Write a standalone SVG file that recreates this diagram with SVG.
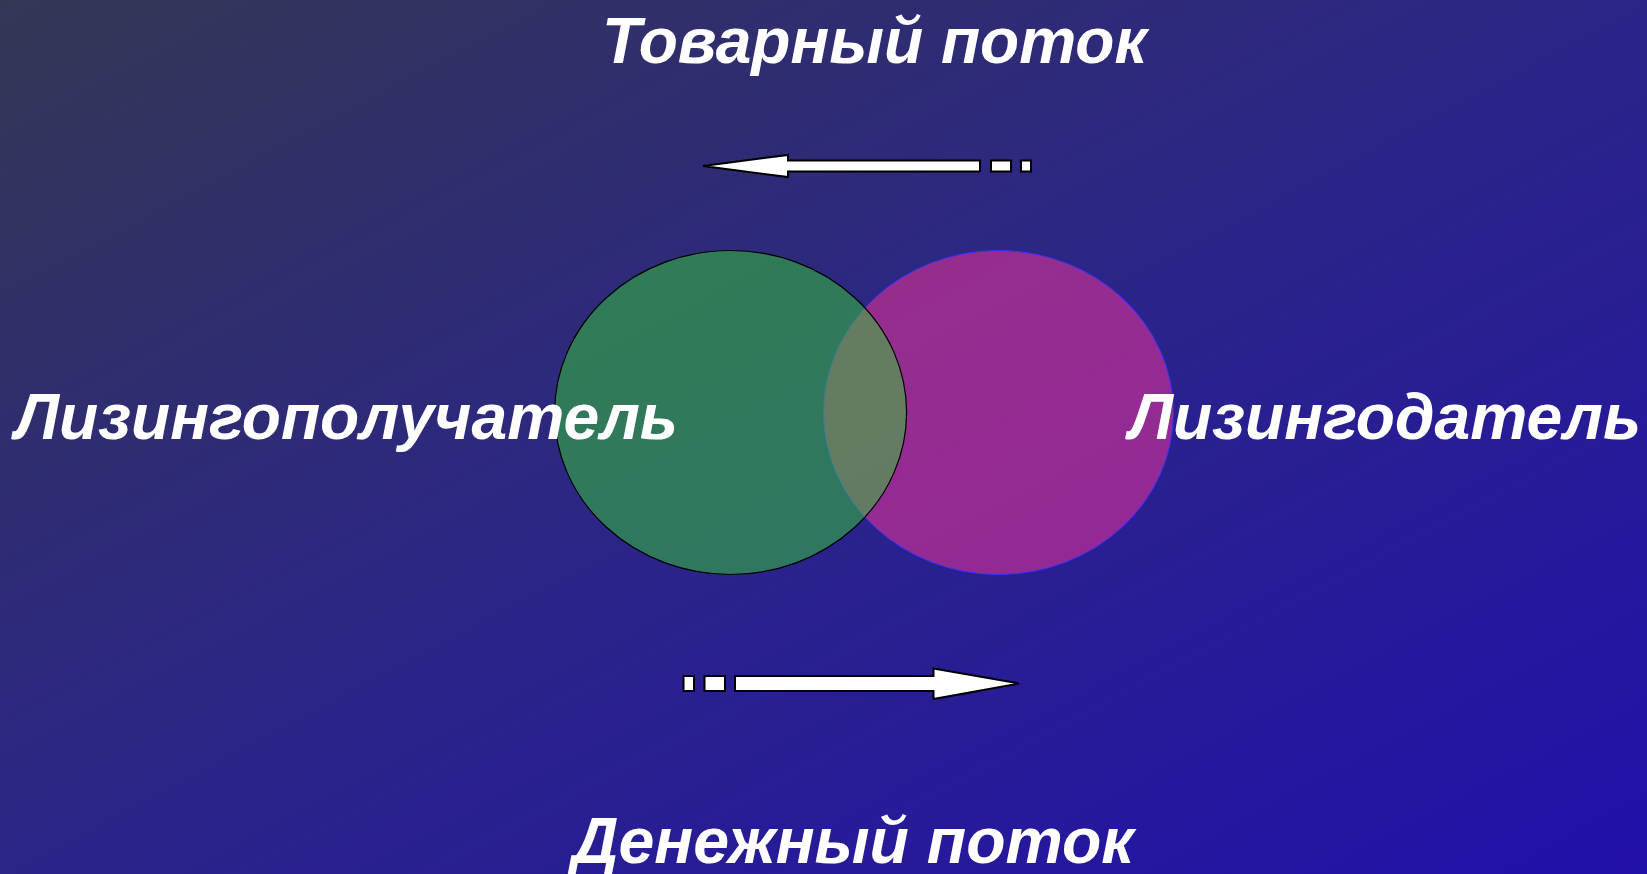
<svg xmlns="http://www.w3.org/2000/svg" width="1647" height="874" viewBox="0 0 1647 874">
<defs>
<linearGradient id="bg" x1="0" y1="0" x2="1" y2="1">
<stop offset="0" stop-color="#343754"/>
<stop offset="0.5" stop-color="#2b2588"/>
<stop offset="1" stop-color="#2210aa"/>
</linearGradient>
<style>
.t{font-family:"Liberation Sans",Arial,sans-serif;font-weight:bold;font-style:italic;fill:#ffffff;font-size:65px}
.arr{fill:#ffffff;stroke:#000000;stroke-width:2}
</style>
</defs>
<rect x="0" y="0" width="1647" height="874" fill="url(#bg)"/>
<g id="lessor">
<ellipse cx="998.5" cy="412.5" rx="175" ry="162" fill="#ff3399" fill-opacity="0.5" stroke="#3333ff" stroke-width="1"/>
</g>
<g id="lessee">
<ellipse cx="730.6" cy="412.5" rx="176" ry="162" fill="#33cc33" fill-opacity="0.5" stroke="#000000" stroke-width="1.2"/>
</g>
<g id="connectors">
<g id="goods-arrow">
<polygon class="arr" points="703,166 788,155 788,160.5 980,160.5 980,171.5 788,171.5 788,177"/>
<rect class="arr" x="991" y="160.5" width="20" height="11"/>
<rect class="arr" x="1021" y="160.5" width="10" height="11"/>
</g>
<g id="money-arrow">
<polygon class="arr" points="1019,683.5 933.5,668.5 933.5,676 735,676 735,691 933.5,691 933.5,699"/>
<rect class="arr" x="704.5" y="676" width="20.5" height="15"/>
<rect class="arr" x="683.5" y="676" width="10.5" height="15"/>
</g>
</g>
<text class="t" x="602" y="63" textLength="545" lengthAdjust="spacingAndGlyphs">Товарный поток</text>
<text class="t" x="572" y="863" textLength="562" lengthAdjust="spacingAndGlyphs">Денежный поток</text>
<g id="label-lessee"><text class="t" x="15" y="439" textLength="663" lengthAdjust="spacingAndGlyphs">Лизингополучатель</text></g>
<g id="label-lessor"><text class="t" x="1129" y="439" textLength="512" lengthAdjust="spacingAndGlyphs">Лизингодатель</text></g>
</svg>
